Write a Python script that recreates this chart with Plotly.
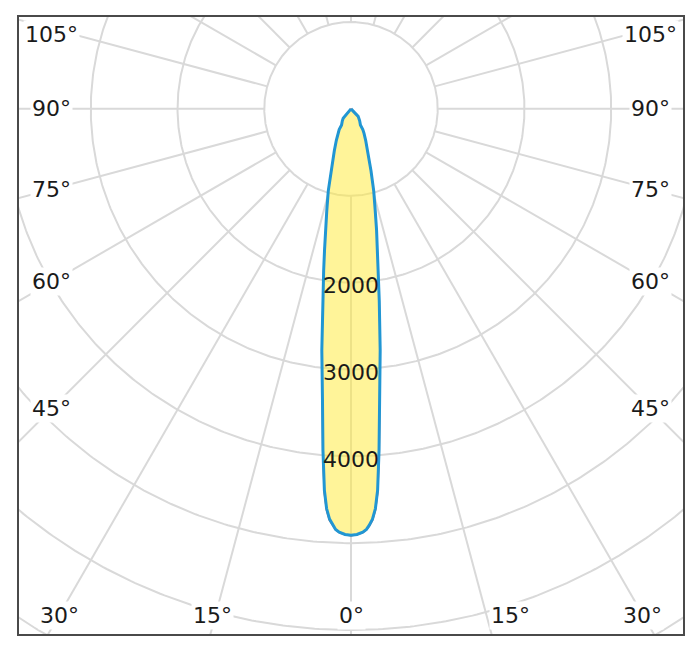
import numpy as np
import plotly.graph_objects as go

# ---- data (luminous intensity, cd, vs. angle from nadir, degrees) ----
angles_deg = [0, 0.8, 1.6, 2.1, 2.5, 3.0, 3.5, 4.0, 4.7, 5.6, 6.9, 8.4, 9.6, 10.6,
              11.9, 13.4, 15.5, 17.9, 21.7, 25, 28, 29.7, 30.2, 33, 36, 40, 43.5, 46, 90, 180]
c90_cd = [4910, 4900, 4875, 4845, 4800, 4730, 4610, 4400, 3945, 3370, 2800, 2230, 1890, 1660,
          1430, 1205, 980, 750, 520, 400, 320, 275, 216, 195, 170, 140, 120, 0, 0, 0]
c0_cd = [4915, 4905, 4880, 4850, 4810, 4745, 4630, 4430, 3975, 3390, 2810, 2235, 1890, 1660,
         1430, 1205, 980, 750, 520, 400, 320, 275, 216, 195, 170, 140, 120, 0, 0, 0]

ring_values = [1000, 2000, 3000, 4000, 5000, 6000, 7000, 8000]
ring_labels = [2000, 3000, 4000]
ray_angles = list(range(-180, 180, 15))
side_label_angles = [45, 60, 75, 90, 105]
bottom_label_angles = [0, 15, 30]

# ---- geometry helpers ----
PX = 87.0 / 1000.0          # pixels per cd
x_range = [-333 / PX, 333 / PX]
y_range = [-526 / PX, 92 / PX]


def to_xy(theta_deg, r):
    t = np.radians(np.asarray(theta_deg, dtype=float))
    r = np.asarray(r, dtype=float)
    return r * np.sin(t), -r * np.cos(t)


def full_curve(angles, values):
    th = [-a for a in reversed(angles)] + list(angles[1:])
    rr = list(reversed(values)) + list(values[1:])
    return to_xy(th, rr)


fig = go.Figure()
GRID = "#d9d9d9"

# rings
phi = np.linspace(0, 360, 721)
for rv in ring_values:
    x, y = to_xy(phi, np.full_like(phi, rv))
    fig.add_trace(go.Scatter(x=x, y=y, mode="lines", line=dict(color=GRID, width=2),
                             hoverinfo="skip", showlegend=False))
# rays
for a in ray_angles:
    x, y = to_xy([a, a], [ring_values[0], 9000])
    fig.add_trace(go.Scatter(x=x, y=y, mode="lines", line=dict(color=GRID, width=2),
                             hoverinfo="skip", showlegend=False))

# curves
xr, yr = full_curve(angles_deg, c0_cd)
fig.add_trace(go.Scatter(x=xr, y=yr, mode="lines", fill="toself",
                         fillcolor="rgba(255,233,60,0.52)",
                         line=dict(color="#e5533d", width=1.5),
                         hoverinfo="skip", showlegend=False))
xb, yb = full_curve(angles_deg, c90_cd)
fig.add_trace(go.Scatter(x=xb, y=yb, mode="lines",
                         line=dict(color="#2196d3", width=3),
                         hoverinfo="skip", showlegend=False))

annotations = []
FONT = dict(family="DejaVu Sans, Verdana, sans-serif", size=22, color="#1a1a1a")

# ring value labels
for rv in ring_labels:
    x, y = to_xy(0, rv)
    annotations.append(dict(x=float(x), y=float(y), text=str(rv), showarrow=False,
                            font=FONT, yshift=-3))

# angle labels at the sides
side_dx = 300 / PX
for a in side_label_angles:
    yv = -side_dx / np.tan(np.radians(a)) if a != 90 else 0.0
    ys = -6 if a == 105 else 0
    for sgn in (-1, 1):
        annotations.append(dict(x=sgn * side_dx, y=float(yv), text=f"{a}°", showarrow=False,
                                font=FONT, bgcolor="white", borderpad=1, yshift=ys))

# angle labels at the bottom
bottom_dy = 507 / PX
for a in bottom_label_angles:
    xv = bottom_dy * np.tan(np.radians(a))
    sides = (1,) if a == 0 else (-1, 1)
    for sgn in sides:
        shift = 24 if (a == 15 and sgn == 1) else (-3 if (a == 15) else 0)
        annotations.append(dict(x=float(sgn * xv), y=-bottom_dy, text=f"{a}°", showarrow=False,
                                font=FONT, bgcolor="white", borderpad=1, xshift=shift))

axis_common = dict(showgrid=False, zeroline=False, showticklabels=False, ticks="",
                   showline=True, mirror=True, linecolor="#4a4a4a", linewidth=2,
                   fixedrange=True)

# the page body has an 8px margin, so the figure is sized/offset to compensate
fig.update_layout(
    width=684, height=637,
    margin=dict(l=11, r=7, t=8, b=11),
    paper_bgcolor="white", plot_bgcolor="white",
    xaxis=dict(range=x_range, **axis_common),
    yaxis=dict(range=y_range, **axis_common),
    annotations=annotations,
    showlegend=False,
)

fig.write_html("out.html")
